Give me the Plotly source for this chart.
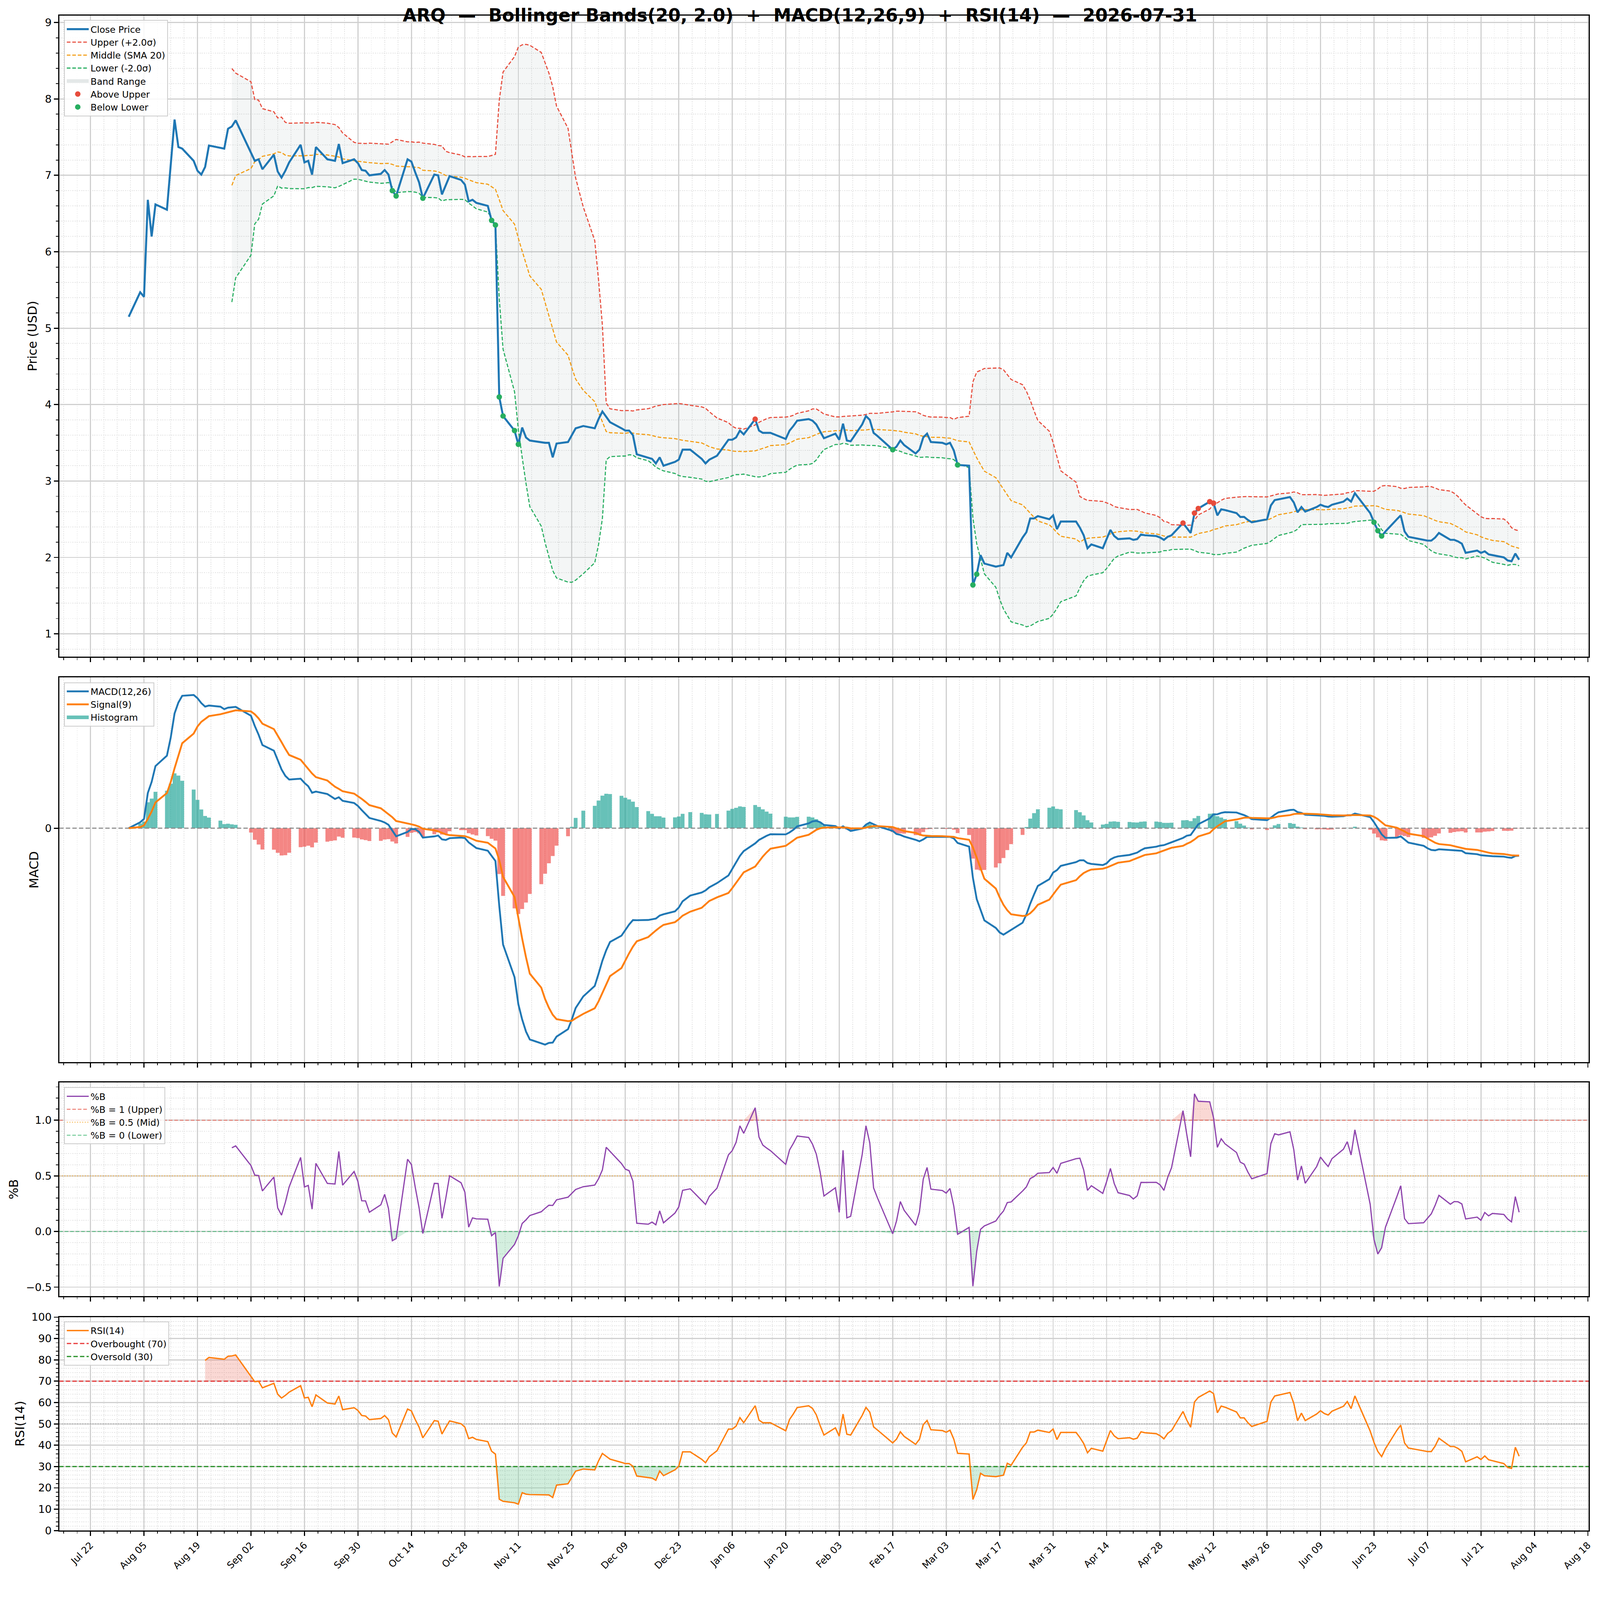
import numpy as np
import pandas as pd
import plotly.graph_objects as go

TICKER = 'ARQ'
AS_OF = '2026-07-31'
FIRST_DAY = '2025-08-01'
HOLIDAYS = ['2025-09-01', '2025-11-27', '2025-12-25', '2026-01-01', '2026-01-19',
            '2026-02-16', '2026-04-03', '2026-05-25', '2026-06-19', '2026-07-03']

# daily close prices (USD), one list per month
close_2025_08 = [5.15, 5.47, 5.41, 6.68, 6.20, 6.62, 6.55, 7.14, 7.73, 7.37, 7.35,
                 7.19, 7.06, 7.01, 7.11, 7.39, 7.36, 7.35, 7.61, 7.64, 7.72]
close_2025_09 = [7.30, 7.19, 7.21, 7.08, 7.27, 7.05, 6.97, 7.06, 7.17, 7.40, 7.17,
                 7.19, 7.01, 7.37, 7.21, 7.20, 7.19, 7.41, 7.16, 7.21, 7.16]
close_2025_10 = [7.07, 7.06, 7.00, 7.02, 7.07, 7.01, 6.80, 6.73, 7.21, 7.18, 7.04,
                 6.91, 6.70, 7.01, 7.00, 6.75, 6.87, 6.99, 6.94, 6.88, 6.66, 6.68, 6.64]
close_2025_11 = [6.60, 6.41, 6.35, 4.10, 3.85, 3.66, 3.48, 3.70, 3.57, 3.53, 3.51,
                 3.50, 3.50, 3.31, 3.49, 3.51, 3.60, 3.69, 3.72]
close_2025_12 = [3.69, 3.81, 3.91, 3.84, 3.77, 3.69, 3.66, 3.66, 3.60, 3.35, 3.31,
                 3.29, 3.23, 3.31, 3.20, 3.25, 3.28, 3.41, 3.41, 3.29, 3.23, 3.28]
close_2026_01 = [3.33, 3.54, 3.54, 3.57, 3.66, 3.61, 3.81, 3.66, 3.63, 3.63, 3.63,
                 3.55, 3.66, 3.72, 3.79, 3.81, 3.79, 3.74, 3.65, 3.56]
close_2026_02 = [3.62, 3.54, 3.75, 3.53, 3.52, 3.74, 3.85, 3.80, 3.63, 3.59, 3.41,
                 3.45, 3.53, 3.47, 3.36, 3.41, 3.57, 3.62, 3.51]
close_2026_03 = [3.50, 3.48, 3.50, 3.40, 3.21, 3.20, 1.64, 1.78, 2.03, 1.92, 1.88,
                 1.89, 1.90, 2.06, 2.00, 2.26, 2.33, 2.51, 2.51, 2.54, 2.50, 2.55]
close_2026_04 = [2.37, 2.47, 2.47, 2.39, 2.29, 2.12, 2.17, 2.12, 2.24, 2.36, 2.28,
                 2.24, 2.25, 2.23, 2.24, 2.30, 2.29, 2.28, 2.26, 2.23, 2.27]
close_2026_05 = [2.29, 2.45, 2.38, 2.32, 2.58, 2.64, 2.73, 2.71, 2.55, 2.63, 2.62,
                 2.58, 2.53, 2.53, 2.49, 2.46, 2.50, 2.68, 2.75, 2.76]
close_2026_06 = [2.79, 2.72, 2.59, 2.66, 2.60, 2.66, 2.69, 2.67, 2.66, 2.69, 2.73,
                 2.77, 2.73, 2.84, 2.58, 2.46, 2.35, 2.28, 2.34, 2.50, 2.55]
close_2026_07 = [2.34, 2.27, 2.23, 2.22, 2.22, 2.26, 2.32, 2.23, 2.23, 2.21, 2.18,
                 2.06, 2.09, 2.06, 2.08, 2.04, 2.03, 2.00, 1.96, 1.95, 2.05, 1.97]

BB_WINDOW = 20
BB_K = 2.0
MACD_FAST, MACD_SLOW, MACD_SIGNAL = 12, 26, 9
RSI_PERIOD = 14
PCTB_LEVELS = [1.0, 0.5, 0.0]
RSI_LEVELS = [70, 50, 30]

closes = (close_2025_08 + close_2025_09 + close_2025_10 + close_2025_11 + close_2025_12 +
          close_2026_01 + close_2026_02 + close_2026_03 + close_2026_04 + close_2026_05 +
          close_2026_06 + close_2026_07)
dates = pd.bdate_range(FIRST_DAY, AS_OF, freq='C', holidays=HOLIDAYS)
close = pd.Series(closes, index=dates)

# indicators
middle = close.rolling(BB_WINDOW).mean()
sd = close.rolling(BB_WINDOW).std()
upper = middle + BB_K * sd
lower = middle - BB_K * sd
pctb = (close - lower) / (upper - lower)

ema_fast = close.ewm(span=MACD_FAST, adjust=False).mean()
ema_slow = close.ewm(span=MACD_SLOW, adjust=False).mean()
macd = ema_fast - ema_slow
signal = macd.ewm(span=MACD_SIGNAL, adjust=False).mean()
hist = macd - signal

delta = close.diff()
avg_gain = delta.clip(lower=0).ewm(alpha=1 / RSI_PERIOD, adjust=False, min_periods=RSI_PERIOD).mean()
avg_loss = (-delta.clip(upper=0)).ewm(alpha=1 / RSI_PERIOD, adjust=False, min_periods=RSI_PERIOD).mean()
rsi = 100 - 100 / (1 + avg_gain / avg_loss)

span = dates[-1] - dates[0]
x_lo = dates[0] - span * 0.05
x_hi = dates[-1] + span * 0.05
x_ends = [x_lo, x_hi]

FONT = 'DejaVu Sans'
TEAL = 'rgba(38,166,154,0.7)'
SALMON = 'rgba(239,83,80,0.7)'
fig = go.Figure()

# ---- price panel
valid = upper.notna()
fig.add_trace(go.Scatter(x=dates[valid], y=upper[valid], mode='lines', line=dict(width=0),
                         showlegend=False, hoverinfo='skip'))
fig.add_trace(go.Scatter(x=dates[valid], y=lower[valid], mode='lines', line=dict(width=0),
                         fill='tonexty', fillcolor='rgba(149,165,166,0.1)', showlegend=False,
                         hoverinfo='skip'))
# legend patch for the band fill
fig.add_trace(go.Scatter(x=[None], y=[None], mode='lines', name='Band Range', legendrank=5,
                         line=dict(color='rgba(228,232,232,1)', width=18)))
fig.add_trace(go.Scatter(x=dates, y=upper, mode='lines', name='Upper (+2.0σ)', legendrank=2,
                         line=dict(color='#e74c3c', width=3, dash='10px,5px')))
fig.add_trace(go.Scatter(x=dates, y=middle, mode='lines', name='Middle (SMA 20)', legendrank=3,
                         line=dict(color='#f39c12', width=3, dash='10px,5px')))
fig.add_trace(go.Scatter(x=dates, y=lower, mode='lines', name='Lower (-2.0σ)', legendrank=4,
                         line=dict(color='#27ae60', width=3, dash='10px,5px')))
fig.add_trace(go.Scatter(x=dates, y=close, mode='lines', name='Close Price', legendrank=1,
                         line=dict(color='#1f77b4', width=5.5)))
above = close > upper
below = close < lower
fig.add_trace(go.Scatter(x=dates[above], y=close[above], mode='markers', name='Above Upper',
                         legendrank=6, marker=dict(color='#e74c3c', size=15)))
fig.add_trace(go.Scatter(x=dates[below], y=close[below], mode='markers', name='Below Lower',
                         legendrank=7, marker=dict(color='#27ae60', size=15)))

# ---- MACD panel
fig.add_trace(go.Scatter(x=x_ends, y=[0, 0], mode='lines', showlegend=False, hoverinfo='skip',
                         line=dict(color='#888888', width=3, dash='12px,6px'),
                         xaxis='x2', yaxis='y2'))
fig.add_trace(go.Bar(x=dates, y=hist.where(hist >= 0), showlegend=False,
                     marker=dict(color=TEAL, line=dict(width=0)),
                     width=86400000, xaxis='x2', yaxis='y2'))
fig.add_trace(go.Bar(x=dates, y=hist.where(hist < 0), showlegend=False,
                     marker=dict(color=SALMON, line=dict(width=0)),
                     width=86400000, xaxis='x2', yaxis='y2'))
fig.add_trace(go.Scatter(x=dates, y=macd, mode='lines', name='MACD(12,26)', legend='legend2',
                         legendrank=1, line=dict(color='#1f77b4', width=5),
                         xaxis='x2', yaxis='y2'))
fig.add_trace(go.Scatter(x=dates, y=signal, mode='lines', name='Signal(9)', legend='legend2',
                         legendrank=2, line=dict(color='#ff7f0e', width=5),
                         xaxis='x2', yaxis='y2'))
fig.add_trace(go.Scatter(x=[None], y=[None], mode='lines', name='Histogram', legend='legend2',
                         legendrank=3, line=dict(color=TEAL, width=18), xaxis='x2', yaxis='y2'))

# ---- %B panel
pv = pctb.notna()
fig.add_trace(go.Scatter(x=dates[pv], y=[PCTB_LEVELS[0]] * int(pv.sum()), mode='lines',
                         line=dict(width=0), showlegend=False, hoverinfo='skip',
                         xaxis='x3', yaxis='y3'))
fig.add_trace(go.Scatter(x=dates[pv], y=np.maximum(pctb[pv], PCTB_LEVELS[0]), mode='lines',
                         line=dict(width=0), fill='tonexty', fillcolor='rgba(231,76,60,0.22)',
                         showlegend=False, hoverinfo='skip', xaxis='x3', yaxis='y3'))
fig.add_trace(go.Scatter(x=dates[pv], y=[PCTB_LEVELS[2]] * int(pv.sum()), mode='lines',
                         line=dict(width=0), showlegend=False, hoverinfo='skip',
                         xaxis='x3', yaxis='y3'))
fig.add_trace(go.Scatter(x=dates[pv], y=np.minimum(pctb[pv], PCTB_LEVELS[2]), mode='lines',
                         line=dict(width=0), fill='tonexty', fillcolor='rgba(39,174,96,0.2)',
                         showlegend=False, hoverinfo='skip', xaxis='x3', yaxis='y3'))
fig.add_trace(go.Scatter(x=x_ends, y=[PCTB_LEVELS[0]] * 2, mode='lines', name='%B = 1 (Upper)',
                         legend='legend3', legendrank=2,
                         line=dict(color='rgba(231,76,60,0.7)', width=2.5, dash='10px,5px'),
                         xaxis='x3', yaxis='y3'))
fig.add_trace(go.Scatter(x=x_ends, y=[PCTB_LEVELS[1]] * 2, mode='lines', name='%B = 0.5 (Mid)',
                         legend='legend3', legendrank=3,
                         line=dict(color='rgba(243,156,18,0.7)', width=2.5, dash='3px,4px'),
                         xaxis='x3', yaxis='y3'))
fig.add_trace(go.Scatter(x=x_ends, y=[PCTB_LEVELS[2]] * 2, mode='lines', name='%B = 0 (Lower)',
                         legend='legend3', legendrank=4,
                         line=dict(color='rgba(39,174,96,0.7)', width=2.5, dash='10px,5px'),
                         xaxis='x3', yaxis='y3'))
fig.add_trace(go.Scatter(x=dates, y=pctb, mode='lines', name='%B', legend='legend3', legendrank=1,
                         line=dict(color='#8e44ad', width=3.3), xaxis='x3', yaxis='y3'))

# ---- RSI panel
rv = rsi.notna()
n_rsi = int(rv.sum())
fig.add_trace(go.Scatter(x=dates[rv], y=[RSI_LEVELS[0]] * n_rsi, mode='lines', line=dict(width=0),
                         showlegend=False, hoverinfo='skip', xaxis='x4', yaxis='y4'))
fig.add_trace(go.Scatter(x=dates[rv], y=np.maximum(rsi[rv], RSI_LEVELS[0]), mode='lines',
                         line=dict(width=0), fill='tonexty', fillcolor='rgba(231,76,60,0.22)',
                         showlegend=False, hoverinfo='skip', xaxis='x4', yaxis='y4'))
fig.add_trace(go.Scatter(x=dates[rv], y=[RSI_LEVELS[2]] * n_rsi, mode='lines', line=dict(width=0),
                         showlegend=False, hoverinfo='skip', xaxis='x4', yaxis='y4'))
fig.add_trace(go.Scatter(x=dates[rv], y=np.minimum(rsi[rv], RSI_LEVELS[2]), mode='lines',
                         line=dict(width=0), fill='tonexty', fillcolor='rgba(39,174,96,0.22)',
                         showlegend=False, hoverinfo='skip', xaxis='x4', yaxis='y4'))
fig.add_trace(go.Scatter(x=x_ends, y=[RSI_LEVELS[1]] * 2, mode='lines', showlegend=False,
                         hoverinfo='skip', line=dict(color='#999999', width=2, dash='3px,4px'),
                         xaxis='x4', yaxis='y4'))
fig.add_trace(go.Scatter(x=x_ends, y=[RSI_LEVELS[0]] * 2, mode='lines', name='Overbought (70)',
                         legend='legend4', legendrank=2,
                         line=dict(color='rgba(230,40,40,0.85)', width=3.5, dash='12px,6px'),
                         xaxis='x4', yaxis='y4'))
fig.add_trace(go.Scatter(x=x_ends, y=[RSI_LEVELS[2]] * 2, mode='lines', name='Oversold (30)',
                         legend='legend4', legendrank=3,
                         line=dict(color='rgba(30,140,30,0.9)', width=3.5, dash='12px,6px'),
                         xaxis='x4', yaxis='y4'))
fig.add_trace(go.Scatter(x=dates, y=rsi, mode='lines', name='RSI(14)', legend='legend4',
                         legendrank=1, line=dict(color='#ff7f0e', width=3.7),
                         xaxis='x4', yaxis='y4'))

# ---- axes
W, H = 4378, 4322
domains = {'y': [0.5842, 0.9901], 'y2': [0.3276, 0.5711], 'y3': [0.1795, 0.3147], 'y4': [0.0310, 0.1661]}
DAY = 86400000

def x_axis(anchor, labels):
    return dict(type='date', range=x_ends, anchor=anchor, domain=[0, 1], matches=None if anchor == 'y' else 'x',
                showline=True, linecolor='black', linewidth=2.5, mirror=True,
                ticks='outside', ticklen=12, tickwidth=2.5, tickcolor='black',
                tick0='2025-07-22', dtick=14 * DAY, showgrid=True, gridcolor='#d0d0d0', gridwidth=2.5,
                minor=dict(tick0='2025-07-22', dtick=3.5 * DAY, ticks='outside', ticklen=6, tickwidth=1.8,
                           tickcolor='black', showgrid=True, gridcolor='#e3e3e3', gridwidth=1.5, griddash='dot'),
                showticklabels=labels, tickformat='%b %d', tickangle=-45,
                tickfont=dict(family=FONT, size=26, color='black'), zeroline=False)

def y_axis(name, **kw):
    ax = dict(anchor=name.replace('y', 'x'), domain=domains[name], showline=True, linecolor='black',
              linewidth=2.5, mirror=True, ticks='outside', ticklen=12, tickwidth=2.5, tickcolor='black',
              showgrid=True, gridcolor='#d0d0d0', gridwidth=2.5, zeroline=False, automargin=False,
              tickfont=dict(family=FONT, size=29, color='black'))
    ax.update(kw)
    return ax

minor_y = lambda d: dict(dtick=d, ticks='outside', ticklen=6, tickwidth=1.8, tickcolor='black',
                         showgrid=True, gridcolor='#e3e3e3', gridwidth=1.5, griddash='dot')

macd_vals = np.concatenate([macd.values, signal.values, hist.values, [0.0]])
m_lo, m_hi = np.nanmin(macd_vals), np.nanmax(macd_vals)
m_pad = (m_hi - m_lo) * 0.05

legend_base = dict(x=0.0033, xanchor='left', yanchor='top', bgcolor='rgba(255,255,255,0.85)',
                   bordercolor='#cccccc', borderwidth=2, font=dict(family=FONT, size=25, color='black'),
                   itemwidth=60, tracegroupgap=0, traceorder='normal')

fig.update_layout(
    width=W, height=H, template='none', plot_bgcolor='white', paper_bgcolor='white',
    margin=dict(l=162, r=31, t=0, b=0), showlegend=True, barmode='overlay',
    font=dict(family=FONT, color='black'),
    title=dict(text=f'{TICKER}\u00a0 — \u00a0Bollinger Bands(20, 2.0)\u00a0 + \u00a0MACD(12,26,9)'
                    f'\u00a0 + \u00a0RSI(14)\u00a0 — \u00a0{AS_OF}',
               x=0.5, xref='container', xanchor='center', y=1 - 42 / H, yref='container', yanchor='middle',
               font=dict(family=FONT, size=49, color='black', weight='bold')),
    xaxis=x_axis('y', False), xaxis2=x_axis('y2', False), xaxis3=x_axis('y3', False), xaxis4=x_axis('y4', True),
    yaxis=y_axis('y', range=[0.70, 9.09], dtick=1, minor=minor_y(0.2)),
    yaxis2=y_axis('y2', range=[m_lo - m_pad, m_hi + m_pad], tickvals=[0], ticktext=['0'], showgrid=False),
    yaxis3=y_axis('y3', range=[-0.58, 1.34], dtick=0.5, tickformat='.1f', minor=minor_y(0.1)),
    yaxis4=y_axis('y4', range=[0, 100], dtick=10, minor=minor_y(2)),
    legend=dict(legend_base, y=1 - 55 / H),
    legend2=dict(legend_base, y=1 - 1867 / H),
    legend3=dict(legend_base, y=1 - 2975 / H),
    legend4=dict(legend_base, y=1 - 3616 / H),
)

# axis labels placed like the original figure
plot_w = W - 162 - 31
for text, cx, cy in [('Price (USD)', 89, 920), ('MACD', 93, 2380), ('%B', 37, 3254), ('RSI(14)', 54, 3896)]:
    fig.add_annotation(text=text, xref='paper', yref='paper', x=(cx - 162) / plot_w, y=1 - cy / H,
                       xanchor='center', yanchor='middle', textangle=-90, showarrow=False,
                       font=dict(family=FONT, size=34, color='black'))

# scale the fixed-size figure to the browser viewport so it is shown whole
fit_js = ("document.body.style.margin='0';"
          "document.documentElement.style.overflow='hidden';document.body.style.overflow='hidden';"
          "var gd=document.getElementById('{plot_id}');"
          "var k=Math.min(window.innerWidth/%d, window.innerHeight/%d);"
          "if('zoom' in document.body.style){gd.style.zoom=k;}"
          "else{gd.style.transformOrigin='0 0';gd.style.transform='scale('+k+')';}" % (W, H))

fig.write_html('out.html', post_script=fit_js, config={'displayModeBar': False})
